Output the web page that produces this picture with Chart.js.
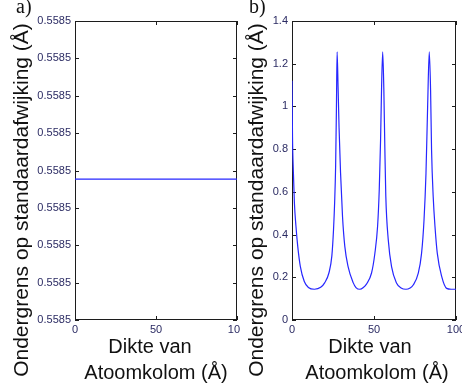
<!DOCTYPE html>
<html>
<head>
<meta charset="utf-8">
<script src="https://cdn.jsdelivr.net/npm/chart.js@4.4.1/dist/chart.umd.min.js"></script>
<style>
  html, body { margin: 0; padding: 0; background: #fff; overflow: hidden; }
  .paneel { position: absolute; top: 0; height: 390px; overflow: hidden; }
  #paneelA { left: 0; width: 240px; }
  #paneelB { left: 240px; width: 222px; }
</style>
</head>
<body>
<div class="paneel" id="paneelA"><canvas id="grafiekA" width="262" height="390"></canvas></div>
<div class="paneel" id="paneelB"><canvas id="grafiekB" width="246" height="390"></canvas></div>
<script>
// dikte (Å) en ondergrens (Å)
const dikteA = [0, 100];
const grensA = [0.5584977, 0.5584977];
const yTicksA = [0.55846, 0.55847, 0.55848, 0.55849, 0.5585, 0.55851, 0.55852, 0.55853, 0.55854];

const dikteB = [0, 0.3, 0.85, 1.45, 2.4, 3.5, 5.1, 7.5, 10, 13.7, 17.5, 20, 22.5, 24.3, 25.3, 26, 26.6, 27.1,
  27.5, 28.1, 28.7, 29.6, 30.8, 32.2, 34.2, 37.3, 39, 41.4, 43.5, 45.4, 48.5, 50.5, 52.2, 53.2, 54, 54.6,
  55.3, 56, 56.6, 57.2, 58.7, 60.7, 63.8, 66.5, 69.5, 72, 73.9, 77, 79, 80.5, 81.7, 82.7,
  83.7, 84.5, 85.1, 86.1, 87.2, 88.6, 91.3, 94.3, 97, 100];
const grensB = [1.12, 0.86, 0.69, 0.55, 0.44, 0.345, 0.25, 0.18, 0.152, 0.144, 0.153, 0.175, 0.22, 0.3, 0.42, 0.55, 0.72, 1.0,
  1.255, 1.09, 0.9, 0.69, 0.485, 0.345, 0.25, 0.175, 0.152, 0.144, 0.152, 0.168, 0.22, 0.31, 0.44, 0.61, 0.84, 1.08,
  1.255, 1.08, 0.81, 0.58, 0.375, 0.25, 0.172, 0.15, 0.144, 0.15, 0.164, 0.219, 0.312, 0.468, 0.687, 1.0,
  1.255, 1.077, 0.796, 0.577, 0.437, 0.312, 0.203, 0.148, 0.144, 0.144];
const yTicksB = [0, 0.2, 0.4, 0.6, 0.8, 1, 1.2, 1.4];

const xTicks = [0, 50, 100];

const yTitel = 'Ondergrens op standaardafwijking (Å)';
const xTitel = ['Dikte van', 'Atoomkolom (Å)'];

// kader met naar binnen wijzende streepjes (onder de lijn), titels erboven
const kaderPlugin = {
  id: 'kader',
  beforeDatasetsDraw(chart) {
    const { ctx, chartArea: a } = chart;
    const x = chart.scales.x, y = chart.scales.y;
    ctx.save();
    ctx.strokeStyle = '#1c1c1c';
    ctx.lineWidth = 1;
    ctx.strokeRect(a.left + 0.5, a.top + 0.5, a.right - a.left - 1, a.bottom - a.top - 1);
    ctx.beginPath();
    x.ticks.forEach(t => {
      const px = Math.round(x.getPixelForValue(t.value)) + 0.5;
      ctx.moveTo(px, a.bottom); ctx.lineTo(px, a.bottom - 4);
      ctx.moveTo(px, a.top); ctx.lineTo(px, a.top + 4);
    });
    y.ticks.forEach(t => {
      const py = Math.round(y.getPixelForValue(t.value)) + 0.5;
      ctx.moveTo(a.left, py); ctx.lineTo(a.left + 4, py);
      ctx.moveTo(a.right, py); ctx.lineTo(a.right - 4, py);
    });
    ctx.stroke();
    ctx.restore();
  },
  afterDraw(chart, args, opts) {
    const { ctx } = chart;
    ctx.save();
    ctx.fillStyle = '#111';
    ctx.textBaseline = 'alphabetic';
    ctx.textAlign = 'center';
    ctx.font = '20px "Liberation Sans", Arial, sans-serif';
    ctx.fillText(xTitel[0], opts.xTitel1, 353);
    ctx.fillText(xTitel[1], opts.xTitel2, 379);

    ctx.save();
    ctx.translate(opts.yTitelX, 200);
    ctx.rotate(-Math.PI / 2);
    ctx.font = '21px "Liberation Sans", Arial, sans-serif';
    ctx.fillText(yTitel, 0, 0);
    ctx.restore();

    ctx.textAlign = 'left';
    ctx.font = '20px "Liberation Serif", "Times New Roman", serif';
    ctx.fillText(opts.label, opts.labelX, 13);
    ctx.restore();
  }
};

function maakGrafiek(id, xs, ys, yTicks, yWidth, padRight, extra, plugOpts) {
  const ctx = document.getElementById(id).getContext('2d');
  return new Chart(ctx, {
    type: 'line',
    data: {
      datasets: [{
        data: xs.map((v, i) => ({ x: v, y: ys[i] })),
        borderColor: '#2626ff',
        borderWidth: 1.2,
        pointRadius: 0,
        cubicInterpolationMode: 'monotone',
        fill: false
      }]
    },
    options: {
      responsive: false,
      animation: false,
      events: [],
      layout: { padding: { left: 0, top: 21, right: padRight, bottom: 50 } },
      plugins: { legend: { display: false }, tooltip: { enabled: false }, kader: plugOpts },
      scales: {
        x: {
          type: 'linear', min: 0, max: 100,
          grid: { display: false, drawTicks: false },
          border: { display: false },
          afterBuildTicks: s => { s.ticks = xTicks.map(v => ({ value: v })); },
          afterFit: s => { s.height = 20; },
          ticks: { padding: 3, color: '#2b2b63', font: { family: '"Liberation Sans", Arial', size: 11 }, maxRotation: 0 }
        },
        y: {
          type: 'linear', min: yTicks[0], max: yTicks[yTicks.length - 1],
          grid: { display: false, drawTicks: false },
          border: { display: false },
          afterBuildTicks: s => { s.ticks = yTicks.map(v => ({ value: v })); },
          afterFit: s => { s.width = yWidth; },
          ticks: Object.assign({ padding: 4, color: '#2b2b63', font: { family: '"Liberation Sans", Arial', size: 11 } }, extra)
        }
      }
    },
    plugins: [kaderPlugin]
  });
}

maakGrafiek('grafiekA', dikteA, grensA, yTicksA, 75, 25,
  { callback: v => v.toFixed(4) },
  { label: 'a)', labelX: 16, yTitelX: 28, xTitel1: 150, xTitel2: 156 });

maakGrafiek('grafiekB', dikteB, grensB, yTicksB, 52, 30,
  { callback: v => String(Math.round(v * 10) / 10) },
  { label: 'b)', labelX: 9, yTitelX: 23, xTitel1: 130, xTitel2: 137 });
</script>
</body>
</html>
